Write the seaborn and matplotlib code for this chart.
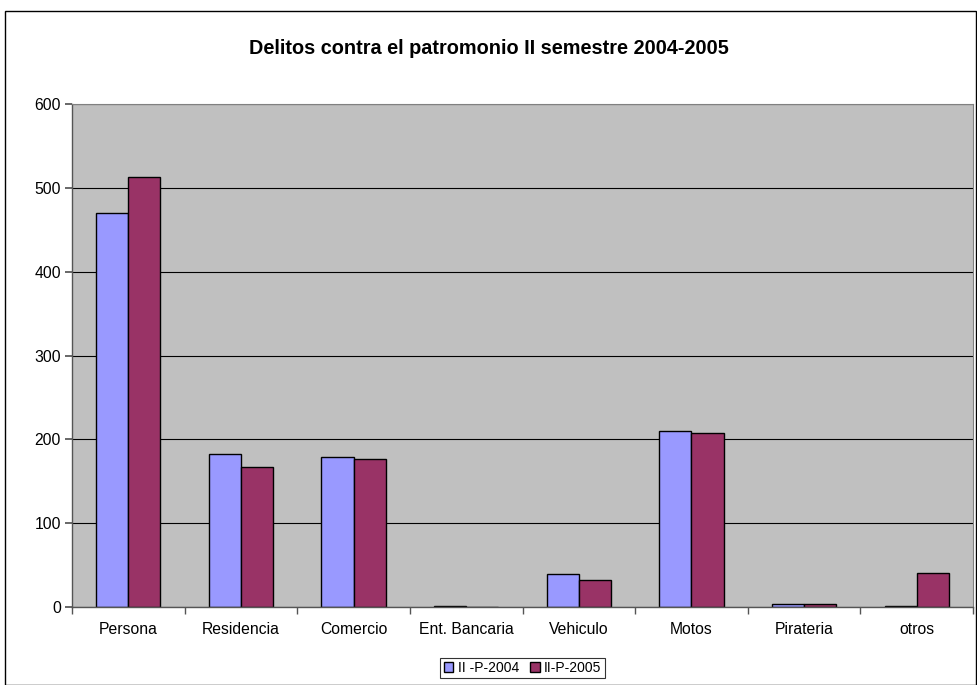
import matplotlib
matplotlib.use("Agg")
import matplotlib.pyplot as plt
import seaborn as sns
import pandas as pd
import numpy as np
from matplotlib.patches import Rectangle

categories = ["Persona", "Residencia", "Comercio", "Ent. Bancaria", "Vehiculo", "Motos", "Pirateria", "otros"]
series_names = ["II -P-2004", "II-P-2005"]
values_2004 = [470, 182, 179, 1, 39, 210, 4, 1]
values_2005 = [513, 167, 176, 0, 32, 208, 4, 41]
y_ticks = [0, 100, 200, 300, 400, 500, 600]
title = "Delitos contra el patromonio II semestre 2004-2005"

df = pd.DataFrame({
    "cat": categories * 2,
    "val": values_2004 + values_2005,
    "serie": [series_names[0]] * len(categories) + [series_names[1]] * len(categories),
})

sns.set_theme(style="white")
plt.rcParams["font.family"] = ["Liberation Sans", "DejaVu Sans"]
plt.rcParams["text.color"] = "black"
plt.rcParams["xtick.labelcolor"] = "black"
plt.rcParams["ytick.labelcolor"] = "black"

fig = plt.figure(figsize=(9.77, 6.85), dpi=100)
ax = fig.add_axes([72/977, 1 - 607/685, (973-72)/977, (607-104)/685])

sns.barplot(data=df, x="cat", y="val", hue="serie", order=categories,
            hue_order=series_names, palette=["#9999FF", "#993366"],
            width=0.57, edgecolor="black", linewidth=1.0, ax=ax, legend=True,
            saturation=1)

ax.set_facecolor("#C0C0C0")
ax.set_ylim(0, 600)
ax.set_xlim(-0.5, len(categories) - 0.5)
ax.set_yticks(y_ticks)
ax.set_yticklabels([str(t) for t in y_ticks], fontsize=11.3, color="black")
ax.yaxis.grid(True, color="black", linewidth=0.8)
ax.set_axisbelow(True)
ax.set_xlabel("")
ax.set_ylabel("")
ax.tick_params(axis="x", which="major", length=0, labelsize=11.3, pad=11, labelcolor="black")
ax.set_xticks(np.arange(-0.5, len(categories) + 0.5, 1), minor=True)
ax.tick_params(axis="x", which="minor", length=5, color="#555555", direction="out", bottom=True)
ax.tick_params(axis="y", length=5, direction="out", left=True, color="#555555", pad=3)
for s in ["top", "right"]:
    ax.spines[s].set_color("#808080")
    ax.spines[s].set_linewidth(0.8)
ax.spines["left"].set_color("#555555")
ax.spines["bottom"].set_color("#555555")
ax.spines["left"].set_linewidth(1.0)
ax.spines["bottom"].set_linewidth(1.0)

fig.text(0.5, 1 - 48/685, title, ha="center", va="center", fontsize=14.3,
         fontweight="bold", color="black")

leg = ax.legend(loc="center", bbox_to_anchor=(0.5, (607-668)/(607-104)), ncol=2,
                fontsize=10, frameon=True, fancybox=False, edgecolor="black",
                handlelength=0.7, handleheight=0.7, handletextpad=0.3,
                columnspacing=0.8, borderpad=0.25, borderaxespad=0)
leg.get_frame().set_linewidth(0.8)
for t in leg.get_texts():
    t.set_color("black")

fig.patches.append(Rectangle((5/977, 0), 1 - 5/977 - 0.001, 1 - 11/685, transform=fig.transFigure,
                             fill=False, edgecolor="black", linewidth=1.0))

fig.savefig("out.png", dpi=100, facecolor="white")
